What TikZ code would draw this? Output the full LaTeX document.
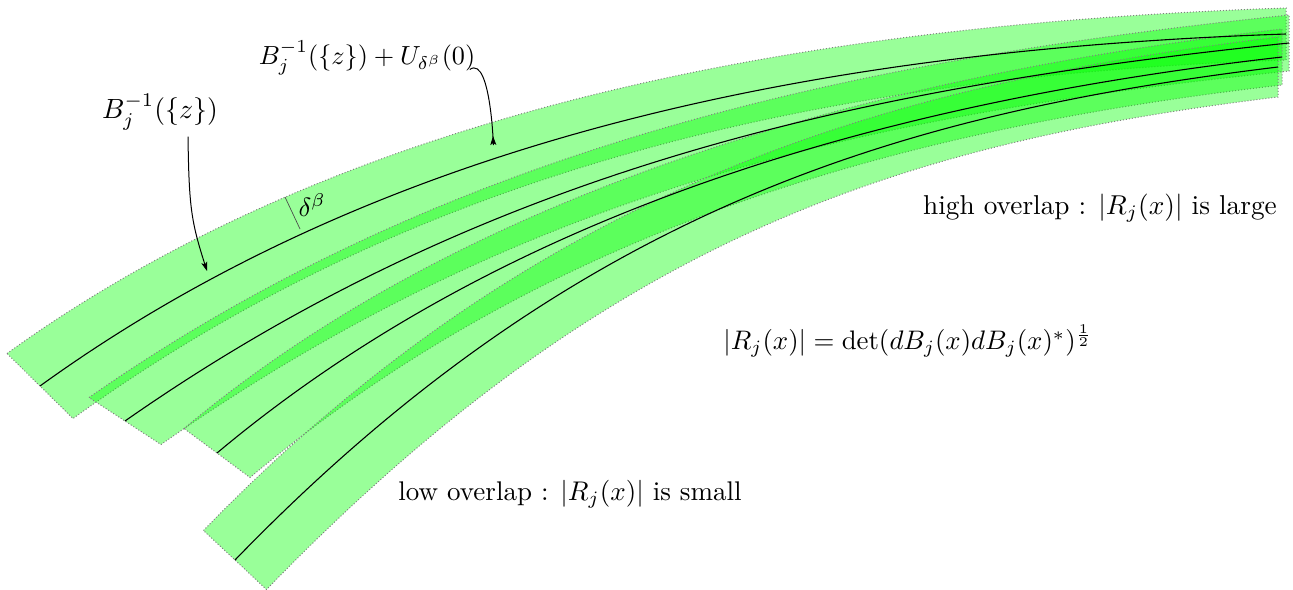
\documentclass[tikz,border=0pt]{standalone}
\usepackage{amsmath}
\usetikzlibrary{arrows.meta}
\begin{document}
\begin{tikzpicture}[x=0.5pt,y=-0.5pt,
  band/.style={fill=green,fill opacity=0.4,draw=gray,densely dotted,line width=0.5pt},
  fibre/.style={draw=black,line width=0.55pt},
  lbl/.style={inner sep=0pt},
  pointer/.style={-{Stealth[length=4.5pt,width=3pt,inset=1pt]},line width=0.5pt},
  tick/.style={draw=black!70,line width=0.35pt}]
\useasboundingbox (0,0) rectangle (1293,589);

% bands (top edge, right end, bottom edge, left end)
\path[band] (7,353.5) .. controls (364,95.5) and (844,23) .. (1286,8)
  -- (1286,60) .. controls (844,75) and (430,160.5) .. (73,418.5) -- cycle;
\path[band] (89,397.5) .. controls (458,139.5) and (875,58) .. (1289,15)
  -- (1289,71) .. controls (875,114) and (530,186.5) .. (161,444.5) -- cycle;
\path[band] (184,428.5) .. controls (480,180.5) and (897,73) .. (1282,29)
  -- (1282,85) .. controls (897,129) and (546,229.5) .. (250,477.5) -- cycle;
\path[band] (203.5,530.5) .. controls (544.5,178.5) and (900,83) .. (1278,37)
  -- (1278,97) .. controls (900,143) and (607.5,237.5) .. (266.5,589.5) -- cycle;

% fibres
\draw[fibre] (40,386) .. controls (397,128) and (844,49) .. (1286,34);
\draw[fibre] (125,421) .. controls (494,163) and (875,86) .. (1289,43);
\draw[fibre] (217,453) .. controls (513,205) and (897,101) .. (1282,57);
\draw[fibre] (235,560) .. controls (576,208) and (900,113) .. (1278,67);

% labels
\node[lbl,scale=1.39] (l1) at (160,112) {$B_j^{-1}(\{z\})$};
\node[lbl,scale=1.31] (l2) at (367,58) {$B_j^{-1}(\{z\})+U_{\delta^\beta}(0)$};
\node[lbl,scale=1.32] (l3) at (312,205) {$\delta^\beta$};
\node[lbl,scale=1.365] (l4) at (1100,208) {high overlap : $|R_j(x)|$ is large};
\node[lbl,scale=1.34] (l5) at (908,341) {$|R_j(x)|=\det(dB_j(x)dB_j(x)^*)^{\frac{1}{2}}$};
\node[lbl,scale=1.35] (l6) at (570,494) {low overlap : $|R_j(x)|$ is small};

% pointers
\coordinate (e1) at (207,271);
\coordinate (e2) at (493,136);
\draw[pointer] ([xshift=14pt,yshift=-3pt]l1.south) .. controls +(1,70) and +(-16,-50) .. (e1);
\draw[pointer] ([xshift=-3pt,yshift=3pt]l2.south east) to[out=35,in=272] (e2);

% delta tick
\coordinate (d1) at (300,229);
\coordinate (d2) at (285,197);
\draw[tick] (d1) -- (d2);
\end{tikzpicture}
\end{document}
